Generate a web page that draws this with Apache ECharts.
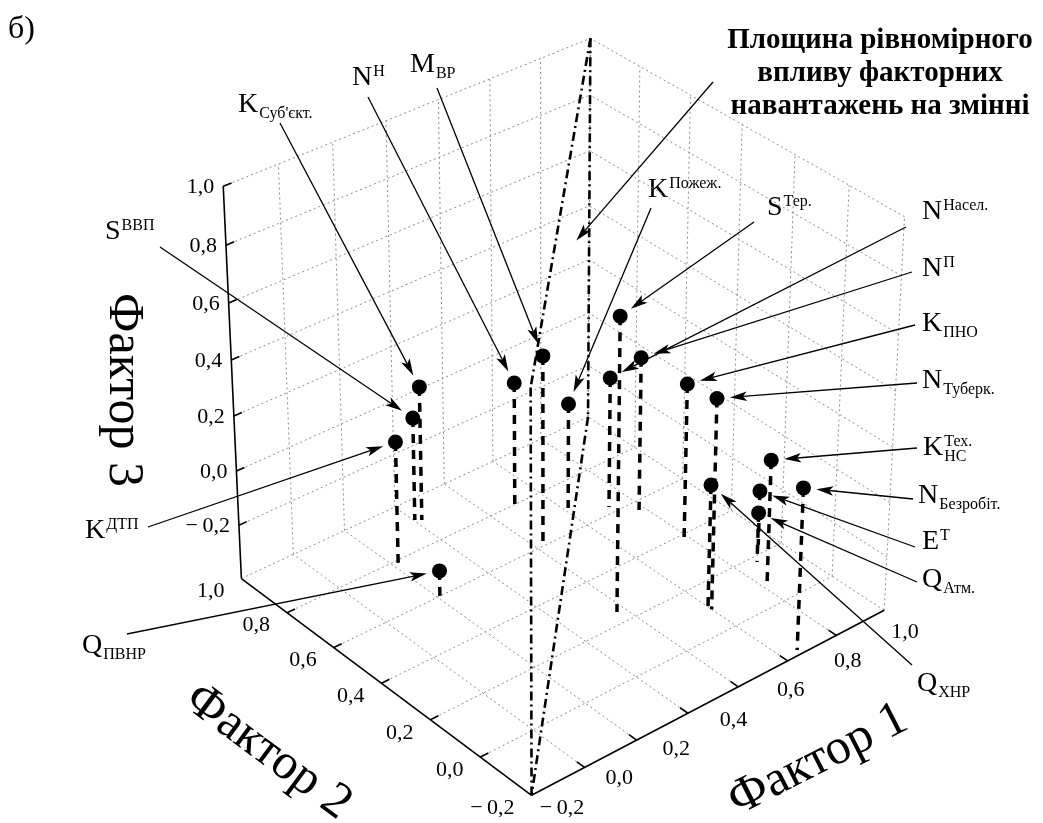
<!DOCTYPE html>
<html lang="uk">
<head>
<meta charset="utf-8">
<script src="https://cdn.jsdelivr.net/npm/echarts@6.0.0/dist/echarts.min.js"></script>
<style>html,body{margin:0;padding:0;background:#fff}#chart{width:1043px;height:823px}</style>
</head>
<body>
<div id="chart"></div>
<script>
// ---------------- data ----------------
// variable symbols: main letter, superscript, subscript
const varMain = ['K', 'N', 'M', 'K', 'S', 'N', 'N', 'K', 'N', 'K', 'N', 'E', 'Q', 'Q', 'Q', 'K', 'S'];
const varSup  = ['', 'Н', '', 'Пожеж.', 'Тер.', 'Насел.', 'П', '', '', 'Тех.', '', 'Т', '', '', '', 'ДТП', 'ВВП'];
const varSub  = ["Суб'єкт.", '', 'ВР', '', '', '', '', 'ПНО', 'Туберк.', 'НС', 'Безробіт.', '', 'Атм.', 'ХНР', 'ПВНР', '', ''];

// factor loadings
const factor1 = [0.221, 0.490, 0.425, 0.615, 0.370, 0.717, 0.779, 0.790, 0.600, 0.815, 0.659, 0.938, 0.874, 0.589, 0.010, 0.020, 0.204];
const factor2 = [0.905, 0.791, 0.605, 0.694, 0.246, 0.626, 0.563, 0.389, 0.095, 0.082, -0.181, 0.233, 0.177, 0.099, 0.601, 0.789, 0.917];
const factor3 = [0.099, 0.067, 0.300, -0.007, 0.666, 0.086, 0.171, 0.171, 0.370, 0.064, 0.192, -0.196, -0.215, 0.062, -0.306, 0.051, -0.016];

// axes
const f1Lim = [-0.4, 1.0];
const f2Lim = [-0.2, 1.0];
const f3Lim = [-0.4, 1.0];
const f1Ticks = [-0.2, 0.0, 0.2, 0.4, 0.6, 0.8, 1.0];
const f2Ticks = [-0.2, 0.0, 0.2, 0.4, 0.6, 0.8, 1.0];
const f3Ticks = [-0.2, 0.0, 0.2, 0.4, 0.6, 0.8, 1.0];
const axisNames = ['Фактор 1', 'Фактор 2', 'Фактор 3'];
const planeCaption = 'Площина рівномірного\nвпливу факторних\nнавантажень на змінні';
const panelTag = 'б)';
// point on the equal-influence plane the caption refers to
const planeMarker = [0.65, 0.70, 0.57];

// ---------------- layout ----------------
const W = 1043, H = 823;
const SERIF = '"Liberation Serif", "Times New Roman", serif';
const INK = '#000';
// screen anchors of the eight corners of the axes box
const frameScreen = [[530, 793], [885, 612], [241, 579], [589, 417], [533, 393], [903, 212], [223, 183], [590, 41]];
// symbol placement (left edge, vertical middle) and where each leader line leaves it
const labelAt = [[238, 105], [352, 78], [410, 65], [648, 190], [767, 208], [922, 212], [922, 269], [922, 324], [922, 381],
  [923, 448], [918, 496], [922, 542], [922, 580], [917, 684], [82, 646], [85, 531], [105, 232]];
const leaderFrom = [[280, 123], [368, 97], [437, 88], [651, 208], [754, 222], [906, 227], [912, 272], [915, 325], [917, 383],
  [917, 448], [913, 499], [915, 547], [917, 582], [912, 665], [127, 634], [148, 527], [160, 247]];

// ---------------- perspective camera fitted to the box corners ----------------
function solveLinear(A, b) {
  const n = b.length;
  const M = A.map((r, i) => r.concat([b[i]]));
  for (let c = 0; c < n; c++) {
    let p = c;
    for (let r = c + 1; r < n; r++) if (Math.abs(M[r][c]) > Math.abs(M[p][c])) p = r;
    [M[c], M[p]] = [M[p], M[c]];
    for (let r = 0; r < n; r++) {
      if (r === c) continue;
      const f = M[r][c] / M[c][c];
      for (let k = c; k <= n; k++) M[r][k] -= f * M[c][k];
    }
  }
  return M.map((r, i) => r[n] / r[i]);
}
function fitCamera(world, screen) {
  const rows = [], rhs = [];
  world.forEach(([X, Y, Z], i) => {
    const [x, y] = screen[i];
    rows.push([X, Y, Z, 1, 0, 0, 0, 0, -x * X, -x * Y, -x * Z]); rhs.push(x);
    rows.push([0, 0, 0, 0, X, Y, Z, 1, -y * X, -y * Y, -y * Z]); rhs.push(y);
  });
  const n = 11;
  const AtA = Array.from({length: n}, () => new Array(n).fill(0));
  const Atb = new Array(n).fill(0);
  rows.forEach((r, k) => {
    for (let i = 0; i < n; i++) {
      Atb[i] += r[i] * rhs[k];
      for (let j = 0; j < n; j++) AtA[i][j] += r[i] * r[j];
    }
  });
  const m = solveLinear(AtA, Atb);
  return [[m[0], m[1], m[2], m[3]], [m[4], m[5], m[6], m[7]], [m[8], m[9], m[10], 1]];
}
const frameWorld = [];
[f3Lim[0], f3Lim[1]].forEach(z => [f2Lim[0], f2Lim[1]].forEach(y => [f1Lim[0], f1Lim[1]].forEach(x => frameWorld.push([x, y, z]))));
const CAM = fitCamera(frameWorld, frameScreen);
function project(p) {
  const r = CAM.map(row => row[0] * p[0] + row[1] * p[1] + row[2] * p[2] + row[3]);
  return [r[0] / r[2], r[1] / r[2]];
}

// ---------------- geometry ----------------
const seg = (p, q) => { const a = project(p), b = project(q); return [a[0], a[1], b[0], b[1]]; };
const [x0, x1] = f1Lim, [y0, y1] = f2Lim, [z0, z1] = f3Lim;

const gridSegs = [];
f1Ticks.forEach(t => gridSegs.push(seg([t, y0, z0], [t, y1, z0])));               // floor
f2Ticks.filter(t => t > y0).forEach(t => gridSegs.push(seg([x0, t, z0], [x1, t, z0])));
f1Ticks.forEach(t => gridSegs.push(seg([t, y1, z0], [t, y1, z1])));               // back-left wall
f3Ticks.forEach(t => gridSegs.push(seg([x0, y1, t], [x1, y1, t])));
f2Ticks.forEach(t => gridSegs.push(seg([x1, t, z0], [x1, t, z1])));               // back-right wall
f3Ticks.forEach(t => gridSegs.push(seg([x1, y0, t], [x1, y1, t])));

const tickLen = 0.03;
const axisSegs = [seg([x0, y1, z0], [x0, y1, z1]), seg([x0, y1, z0], [x0, y0, z0]), seg([x0, y0, z0], [x1, y0, z0])];
f3Ticks.forEach(t => axisSegs.push(seg([x0, y1, t], [x0 + tickLen, y1, t])));
f2Ticks.filter(t => t > y0 && t < y1).forEach(t => axisSegs.push(seg([x0, t, z0], [x0 + tickLen, t, z0])));
f1Ticks.filter(t => t < x1).forEach(t => axisSegs.push(seg([t, y0, z0], [t, y0 + tickLen, z0])));

// vertical plane through the box diagonal
const planeSegs = [
  seg([x1, y1, z1], [x1, y1, z0]), seg([x1, y1, z0], [x0, y0, z0]),
  seg([x1, y1, z1], [x0, y0, z1]), seg([x0, y0, z1], [x0, y0, z0])
];

const stemSegs = factor1.map((v, i) => seg([v, factor2[i], factor3[i]], [v, factor2[i], z0]));
const points = factor1.map((v, i) => project([v, factor2[i], factor3[i]]));

const tipGap = 13;
const arrows = points.map((p, i) => {
  const s = leaderFrom[i];
  const dx = p[0] - s[0], dy = p[1] - s[1], d = Math.hypot(dx, dy);
  return [s[0], s[1], p[0] - dx / d * tipGap, p[1] - dy / d * tipGap];
});
const captionTip = project(planeMarker);
arrows.push([713, 82, captionTip[0], captionTip[1]]);

// tick labels
const fmt = v => (v < 0 ? '\u2212\u2009' : '') + Math.abs(v).toFixed(1).replace('.', ',');
const tickLabels = [];
f3Ticks.forEach(t => { const p = project([x0, y1, t]); tickLabels.push({pos: [p[0] - 9, p[1] + 1], text: fmt(t), align: 'right'}); });
f2Ticks.forEach(t => { const p = project([x0, t, z0]); tickLabels.push({pos: [p[0] - 17, p[1] + 13], text: fmt(t), align: 'right'}); });
const f1LabelFrom = [562, 808], f1LabelTo = [905, 632];
f1Ticks.forEach(t => {
  const k = (t - f1Ticks[0]) / (f1Ticks[f1Ticks.length - 1] - f1Ticks[0]);
  tickLabels.push({pos: [f1LabelFrom[0] + k * (f1LabelTo[0] - f1LabelFrom[0]), f1LabelFrom[1] + k * (f1LabelTo[1] - f1LabelFrom[1])], text: fmt(t), align: 'center'});
});

// ---------------- series helpers ----------------
function segmentSeries(data, style, z) {
  return {
    type: 'custom', coordinateSystem: 'cartesian2d', silent: true, z, encode: {x: [0, 2], y: [1, 3]}, data,
    renderItem: (params, api) => {
      const a = api.coord([api.value(0), api.value(1)]);
      const b = api.coord([api.value(2), api.value(3)]);
      return {type: 'line', shape: {x1: a[0], y1: a[1], x2: b[0], y2: b[1]}, style};
    }
  };
}
function arrowSeries(data, z) {
  const len = 17, half = 4.8, notch = 4;
  return {
    type: 'custom', coordinateSystem: 'cartesian2d', silent: true, z, encode: {x: [0, 2], y: [1, 3]}, data,
    renderItem: (params, api) => {
      const a = api.coord([api.value(0), api.value(1)]);
      const b = api.coord([api.value(2), api.value(3)]);
      const dx = b[0] - a[0], dy = b[1] - a[1], d = Math.hypot(dx, dy);
      const ux = dx / d, uy = dy / d, nx = -uy, ny = ux;
      const bx = b[0] - ux * len, by = b[1] - uy * len;
      const mx = b[0] - ux * (len - notch), my = b[1] - uy * (len - notch);
      return {
        type: 'group', children: [
          {type: 'line', shape: {x1: a[0], y1: a[1], x2: mx, y2: my}, style: {stroke: INK, lineWidth: 1.3}},
          {type: 'polygon', shape: {points: [[b[0], b[1]], [bx + nx * half, by + ny * half], [mx, my], [bx - nx * half, by - ny * half]]}, style: {fill: INK}}
        ]
      };
    }
  };
}
function textSeries(items, font, z) {
  return {
    type: 'custom', coordinateSystem: 'cartesian2d', silent: true, z, encode: {x: 0, y: 1}, data: items.map(d => d.pos),
    renderItem: (params, api) => {
      const it = items[params.dataIndex];
      const p = api.coord([api.value(0), api.value(1)]);
      return {type: 'text', x: p[0], y: p[1], style: {text: it.text, font, fill: INK, align: it.align, verticalAlign: 'middle'}};
    }
  };
}

// ---------------- symbol labels ----------------
const ctx = document.createElement('canvas').getContext('2d');
const textWidth = (s, font) => { ctx.font = font; return ctx.measureText(s).width; };
const mainFont = '28px ' + SERIF, smallFont = '16px ' + SERIF;
const graphics = [];
varMain.forEach((m, i) => {
  const [lx, ly] = labelAt[i];
  graphics.push({type: 'text', x: lx, y: ly, style: {text: m, font: mainFont, fill: INK, verticalAlign: 'middle'}});
  const sx = lx + textWidth(m, mainFont) + 1;
  if (varSup[i]) graphics.push({type: 'text', x: sx, y: ly - 6.5, style: {text: varSup[i], font: smallFont, fill: INK, verticalAlign: 'middle'}});
  if (varSub[i]) graphics.push({type: 'text', x: sx, y: ly + 9, style: {text: varSub[i], font: smallFont, fill: INK, verticalAlign: 'middle'}});
});
graphics.push({type: 'text', x: 880, y: 24, style: {text: planeCaption, font: 'bold 29px ' + SERIF, lineHeight: 33, fill: INK, align: 'center', verticalAlign: 'top'}});
graphics.push({type: 'text', x: 8, y: 30, style: {text: panelTag, font: '32px ' + SERIF, fill: INK, verticalAlign: 'middle'}});
const titleFont = '50px ' + SERIF;
graphics.push({type: 'text', x: 818, y: 760, rotation: 0.47, style: {text: axisNames[0], font: titleFont, fill: INK, align: 'center', verticalAlign: 'middle'}});
graphics.push({type: 'text', x: 268, y: 752, rotation: -0.637, style: {text: axisNames[1], font: titleFont, fill: INK, align: 'center', verticalAlign: 'middle'}});
graphics.push({type: 'text', x: 123, y: 390, rotation: -Math.PI / 2, style: {text: axisNames[2], font: titleFont, fill: INK, align: 'center', verticalAlign: 'middle'}});

// ---------------- chart ----------------
const chart = echarts.init(document.getElementById('chart'));
chart.setOption({
  animation: false,
  backgroundColor: '#fff',
  grid: {left: 0, right: 0, top: 0, bottom: 0},
  xAxis: {type: 'value', min: 0, max: W, show: false},
  yAxis: {type: 'value', min: 0, max: H, inverse: true, show: false},
  series: [
    segmentSeries(gridSegs, {stroke: '#8c8c8c', lineWidth: 1, lineDash: [2, 3]}, 1),
    segmentSeries(axisSegs, {stroke: INK, lineWidth: 1.6}, 2),
    segmentSeries(planeSegs, {stroke: INK, lineWidth: 2.6, lineDash: [9, 4, 2, 4]}, 3),
    segmentSeries(stemSegs, {stroke: INK, lineWidth: 3.5, lineDash: [9, 7]}, 4),
    {type: 'scatter', data: points, symbolSize: 15, itemStyle: {color: '#000', opacity: 1}, z: 5, silent: true},
    arrowSeries(arrows, 6),
    textSeries(tickLabels, '22px ' + SERIF, 7)
  ],
  graphic: graphics
});
</script>
</body>
</html>
